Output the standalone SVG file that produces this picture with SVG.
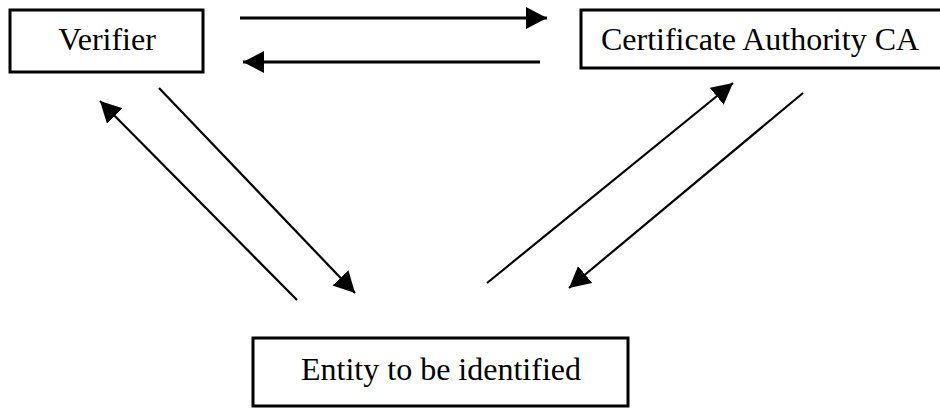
<svg xmlns="http://www.w3.org/2000/svg" width="940" height="408" viewBox="0 0 940 408">
  <style>
    .box { fill: #ffffff; stroke: #000000; stroke-width: 3; }
    .label { font-family: "Liberation Serif", "Times New Roman", serif; font-size: 32px; fill: #000000; text-anchor: middle; }
    .link { stroke: #000000; stroke-width: 2.2; fill: none; marker-end: url(#head); }
    .link.flat { stroke-width: 3; }
  </style>
  <defs>
    <marker id="head" markerUnits="userSpaceOnUse" markerWidth="24" markerHeight="24" refX="21" refY="11" orient="auto">
      <path d="M0,0 L21,11 L0,22 z" fill="#000000"/>
    </marker>
  </defs>
  <rect width="940" height="408" fill="#ffffff"/>

  <g id="verifier">
    <rect class="box" x="10" y="10" width="193" height="62"/>
    <text class="label" x="107" y="50">Verifier</text>
  </g>

  <g id="ca">
    <rect class="box" x="581" y="10" width="364" height="58"/>
    <text class="label" x="760" y="50">Certificate Authority CA</text>
  </g>

  <g id="entity">
    <rect class="box" x="253" y="338" width="375" height="68"/>
    <text class="label" x="441" y="380">Entity to be identified</text>
  </g>

  <g id="connectors">
    <line class="link flat" x1="240" y1="18" x2="547" y2="18"/>
    <line class="link flat" x1="540" y1="62" x2="243" y2="62"/>
    <line class="link" x1="297" y1="300" x2="100" y2="101"/>
    <line class="link" x1="159" y1="88" x2="355" y2="293"/>
    <line class="link" x1="487" y1="283" x2="733" y2="83"/>
    <line class="link" x1="803" y1="93" x2="569" y2="288"/>
  </g>
</svg>
